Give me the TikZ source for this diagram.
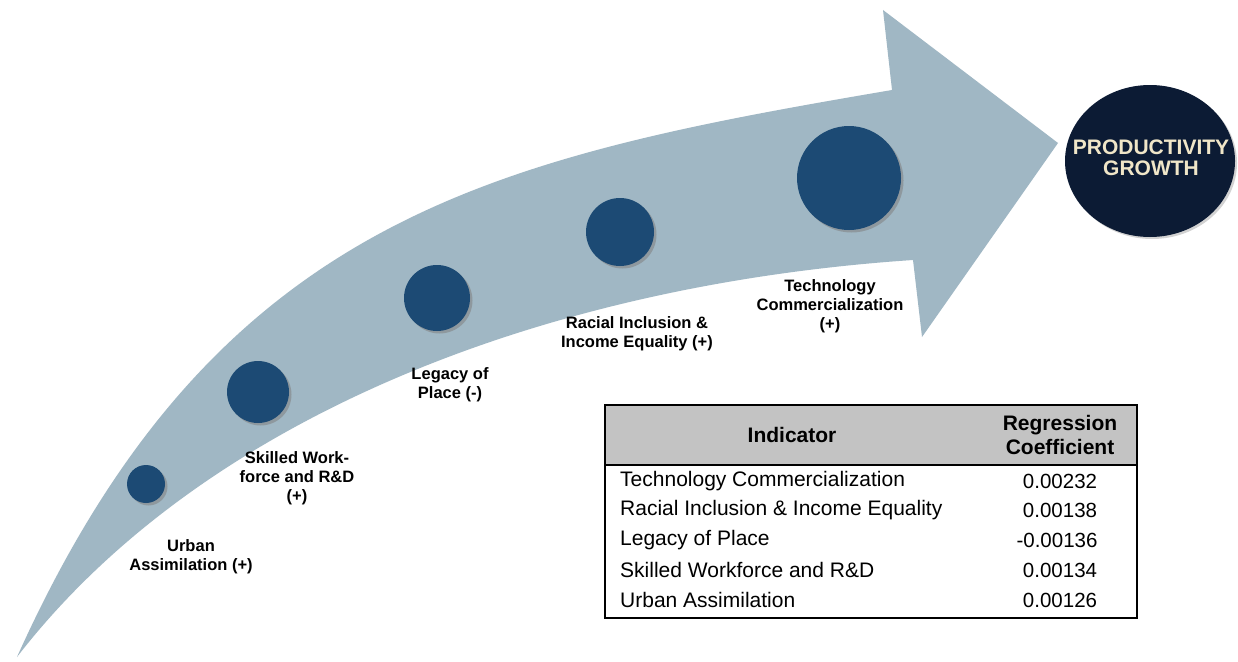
\documentclass[tikz,border=0pt]{standalone}
\usepackage{fontspec}
\setmainfont{Liberation Sans}
\usetikzlibrary{shadows,shapes.geometric}
\definecolor{arrowcol}{RGB}{160,183,196}
\definecolor{dotcol}{RGB}{28,74,116}
\definecolor{navy}{RGB}{12,27,52}
\definecolor{cream}{RGB}{240,230,200}
\definecolor{hdrgray}{RGB}{195,195,195}
\tikzset{
  dot/.style={circle, fill=dotcol, inner sep=0pt, drop shadow={shadow xshift=2.5pt, shadow yshift=-2.5pt, opacity=0.55}},
  lbl/.style={align=center, font=\fontsize{16.5}{19}\selectfont\bfseries, text=black, inner sep=0pt},
  cell/.style={font=\fontsize{21}{24}\selectfont, inner sep=0pt, anchor=west},
  num/.style={font=\fontsize{20.5}{24}\selectfont, inner sep=0pt},
  hdr/.style={font=\fontsize{21}{24}\selectfont\bfseries, inner sep=0pt, align=center}
}
\begin{document}
\begin{tikzpicture}[x=1pt,y=-1pt]
\useasboundingbox (0,0) rectangle (1238,661);
\fill[white] (0,0) rectangle (1238,661);
% curved arrow
\fill[arrowcol]
  (17,657) .. controls (215,217) and (492,158) .. (892,90)
  -- (883,10) -- (1058,143) -- (922,337) -- (913,260)
  .. controls (540,285) and (200,420) .. (17,657)
  -- cycle;
% circles
\node[dot, minimum size=38pt] (c1) at (146,484) {};
\node[dot, minimum size=62pt] (c2) at (258,392) {};
\node[dot, minimum size=66pt] (c3) at (437,298) {};
\node[dot, minimum size=68pt] (c4) at (620,232) {};
\node[dot, minimum size=104pt] (c5) at (849,178) {};
% productivity
\node[ellipse, fill=navy, minimum width=170pt, minimum height=152pt, inner sep=0pt, drop shadow={shadow xshift=2pt, shadow yshift=-2pt, opacity=0.35}] (pg) at (1150,161) {};
\node[align=center, text=cream, font=\fontsize{21}{20.5}\selectfont\bfseries, inner sep=0pt] (pgt) at (1151,158) {PRODUCTIVITY\\GROWTH};
% labels
\node[lbl] (l1) at (191,557) {Urban\\Assimilation (+)};
\node[lbl] (l2) at (297,478) {Skilled Work-\\force and R\&D\\(+)};
\node[lbl] (l3) at (450,385) {Legacy of\\Place (-)};
\node[lbl] (l4) at (637,334) {Racial Inclusion \&\\Income Equality (+)};
\node[lbl] (l5) at (830,306) {Technology\\Commercialization\\(+)};
% table
\fill[hdrgray] (605,405) rectangle (1137,465);
\draw[line width=1.5pt] (605,465) -- (1137,465);
\draw[line width=2pt] (605,405) rectangle (1137,618);
\node[hdr] (h1) at (792,435) {Indicator};
\node[hdr] (h2) at (1060,435) {Regression\\Coefficient};
\node[cell] (r1) at (620,481) {Technology Commercialization};
\node[cell] (r2) at (620,510) {Racial Inclusion \& Income Equality};
\node[cell] (r3) at (620,540) {Legacy of Place};
\node[cell] (r4) at (620,570) {Skilled Workforce and R\&D};
\node[cell] (r5) at (620,600) {Urban Assimilation};
\node[num] (n1) at (1060,481) {0.00232};
\node[num] (n2) at (1060,510) {0.00138};
\node[num] (n3) at (1057,540) {-0.00136};
\node[num] (n4) at (1060,570) {0.00134};
\node[num] (n5) at (1060,600) {0.00126};
\end{tikzpicture}
\end{document}
